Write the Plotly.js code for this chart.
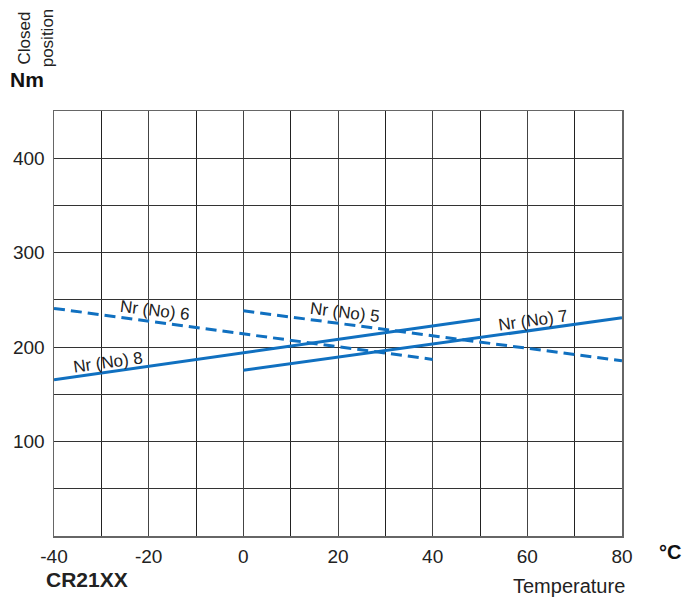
<!DOCTYPE html>
<html>
<head>
<meta charset="utf-8">
<script src="https://cdn.plot.ly/plotly-3.0.1.min.js"></script>
<style>
html,body{margin:0;padding:0;background:#fff;}
#chart{width:694px;height:601px;}
</style>
</head>
<body>
<div id="chart"></div>
<script>
// Temperature (°C) and torque (Nm) for each curve
const tempNr6 = [-40, 40];
const torqueNr6 = [241, 187];
const tempNr5 = [0, 80];
const torqueNr5 = [238.5, 185.5];
const tempNr8 = [-40, 50];
const torqueNr8 = [165.5, 229.5];
const tempNr7 = [0, 80];
const torqueNr7 = [175.5, 231];

const labelNames = ["Nr (No) 6", "Nr (No) 5", "Nr (No) 8", "Nr (No) 7"];
const labelX = [-18.7, 21.5, -28.6, 61.2];
const labelY = [239, 237, 184, 228.6];
const labelAngle = [7, 7, -8, -8];

const xTicks = [-40, -20, 0, 20, 40, 60, 80];
const yTicks = [100, 200, 300, 400];

const blue = '#1070c0';
const font = 'Liberation Sans, Arial, sans-serif';

const traces = [
  {x: tempNr6, y: torqueNr6, mode: 'lines', line: {color: blue, width: 3, dash: '11px,6px'}},
  {x: tempNr5, y: torqueNr5, mode: 'lines', line: {color: blue, width: 3, dash: '11px,6px'}},
  {x: tempNr8, y: torqueNr8, mode: 'lines', line: {color: blue, width: 3}},
  {x: tempNr7, y: torqueNr7, mode: 'lines', line: {color: blue, width: 3}}
];

const annotations = labelNames.map((t, i) => ({
  text: t, x: labelX[i], y: labelY[i], xref: 'x', yref: 'y',
  showarrow: false, textangle: labelAngle[i],
  font: {family: font, size: 17, color: '#222'}
}));

annotations.push(
  {text: '<b>Nm</b>', xref: 'paper', yref: 'paper', x: -0.0475, y: 1.073, xanchor: 'center', yanchor: 'middle', showarrow: false, font: {family: font, size: 21, color: '#111'}},
  {text: 'Closed<br>position', xref: 'paper', yref: 'paper', x: -0.031, y: 1.172, xanchor: 'center', yanchor: 'middle', textangle: -90, showarrow: false, font: {family: font, size: 17, color: '#222'}},
  {text: '<b>°C</b>', xref: 'paper', yref: 'paper', x: 1.0845, y: -0.0376, xanchor: 'center', yanchor: 'middle', showarrow: false, font: {family: font, size: 20, color: '#111'}},
  {text: '<b>CR21XX</b>', xref: 'paper', yref: 'paper', x: -0.0176, y: -0.1035, xanchor: 'left', yanchor: 'middle', showarrow: false, font: {family: font, size: 21, color: '#222'}},
  {text: 'Temperature', xref: 'paper', yref: 'paper', x: 1.0088, y: -0.1176, xanchor: 'right', yanchor: 'middle', showarrow: false, font: {family: font, size: 20, color: '#222'}}
);

const layout = {
  width: 694, height: 601,
  margin: {l: 54, r: 72, t: 111, b: 65},
  paper_bgcolor: '#fff', plot_bgcolor: '#fff',
  showlegend: false,
  font: {family: font, size: 19, color: '#222'},
  xaxis: {
    range: [-40, 80], tickvals: xTicks, ticktext: xTicks.map(String),
    showgrid: true, gridcolor: '#444', gridwidth: 1,
    minor: {dtick: 10, showgrid: true, gridcolor: '#222', gridwidth: 1},
    zeroline: false, showline: true, linecolor: '#666', linewidth: 1.5, mirror: true,
    ticks: 'outside', ticklen: 3, tickcolor: 'rgba(0,0,0,0)',
    tickfont: {family: font, size: 19, color: '#222'}
  },
  yaxis: {
    range: [0, 450], tickvals: yTicks, ticktext: yTicks.map(String),
    showgrid: true, gridcolor: '#333', gridwidth: 1,
    minor: {dtick: 50, showgrid: true, gridcolor: '#333', gridwidth: 1},
    zeroline: false, showline: true, linecolor: '#666', linewidth: 1.5, mirror: true,
    ticks: 'outside', ticklen: 4, tickcolor: 'rgba(0,0,0,0)',
    tickfont: {family: font, size: 19, color: '#222'}
  },
  annotations: annotations
};

Plotly.newPlot('chart', traces, layout, {displayModeBar: false, staticPlot: true});
</script>
</body>
</html>
